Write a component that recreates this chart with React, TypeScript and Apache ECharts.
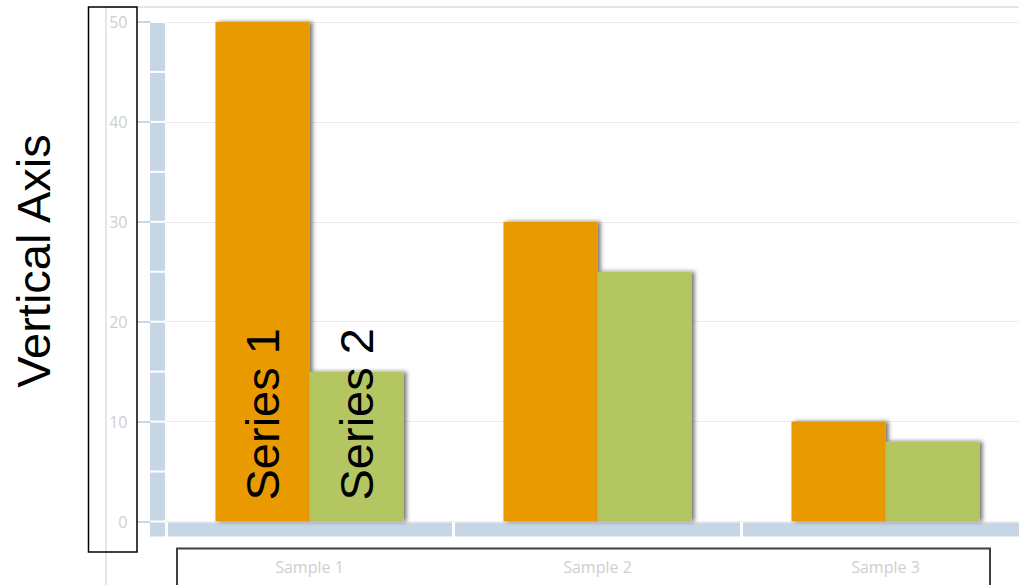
import React, { useEffect, useRef } from "react";
import * as echarts from "echarts";

const categories = ["Sample 1", "Sample 2", "Sample 3"];
const series1 = [50, 30, 10];
const series2 = [15, 25, 8];
const seriesNames = ["Series 1", "Series 2"];
const yMin = 0;
const yMax = 50;
const yInterval = 10;
const wallStep = 5;
const axisTitle = "Vertical Axis";

const WALL = "#c7d6e4";
const LABEL_FONT = "Liberation Sans";
const CHART_W = 1040;

function withFirstLabel(values: number[]) {
  return values.map((v, i) =>
    i === 0
      ? {
          value: v,
          label: {
            show: true,
            formatter: "{a}",
            position: "insideBottom",
            rotate: 90,
            align: "left",
            verticalAlign: "middle",
            distance: 21,
            fontSize: 47,
            fontFamily: LABEL_FONT,
            color: "#000",
          },
        }
      : v
  );
}

export default function App() {
  const ref = useRef<HTMLDivElement>(null);
  useEffect(() => {
    if (!ref.current) return;
    const chart = echarts.init(ref.current, null, { renderer: "svg" });
    const barStyle = (color: string) => ({
      color,
      shadowColor: "rgba(0,0,0,0.55)",
      shadowBlur: 4,
      shadowOffsetX: 3,
      shadowOffsetY: 0,
    });
    chart.setOption({
      animation: false,
      grid: { left: 165.5, top: 22, right: CHART_W - 165.5 - 864, height: 499.5, containLabel: false },
      xAxis: {
        type: "category",
        data: categories,
        axisLine: { show: false },
        axisTick: { show: false },
        splitLine: { show: false },
        axisLabel: { color: "#cfcfcf", fontSize: 16, fontFamily: "Open Sans", margin: 37 },
      },
      yAxis: {
        type: "value",
        min: yMin,
        max: yMax,
        interval: yInterval,
        offset: 15,
        axisLine: { show: false },
        axisTick: { show: true, length: 13, lineStyle: { color: WALL, width: 2 } },
        axisLabel: {
          color: "#cfcfcf",
          fontSize: 16,
          fontFamily: "Open Sans",
          margin: 23,
          padding: [0, 0, 5, 0],
        },
        splitLine: { lineStyle: { color: "#ececec", width: 1 } },
      },
      series: [
        {
          name: seriesNames[0],
          type: "bar",
          data: withFirstLabel(series1),
          barWidth: 94,
          barGap: "0%",
          itemStyle: barStyle("#e99a00"),
        },
        {
          name: seriesNames[1],
          type: "bar",
          data: withFirstLabel(series2),
          barWidth: 94,
          barGap: "0%",
          itemStyle: barStyle("#b4c662"),
        },
      ],
    });

    const py = (v: number) => chart.convertToPixel({ yAxisIndex: 0 }, v) as number;
    const px = (i: number) => chart.convertToPixel({ xAxisIndex: 0 }, categories[i]) as number;
    const band = px(1) - px(0);
    const gridLeft = px(0) - band / 2;
    const zeroY = py(yMin);

    const graphics: any[] = [];
    graphics.push({
      type: "rect",
      z: -10,
      shape: { x: 106, y: 7, width: 1000, height: 700 },
      style: { fill: "none", stroke: "#e6e6e6", lineWidth: 2 },
    });
    for (let v = yMax; v > yMin; v -= wallStep) {
      const top = py(v) + 1;
      const bottom = py(v - wallStep) - 1;
      graphics.push({
        type: "rect",
        z: 1,
        shape: { x: gridLeft - 15.5, y: top, width: 15, height: bottom - top },
        style: { fill: WALL },
      });
    }
    graphics.push({
      type: "rect",
      z: 1,
      shape: { x: gridLeft - 15.5, y: zeroY + 1, width: 15, height: 14 },
      style: { fill: WALL },
    });
    for (let i = 0; i < categories.length; i++) {
      const left = gridLeft + i * band + (i === 0 ? 2.5 : 1.5);
      const right = gridLeft + (i + 1) * band - 1.5;
      graphics.push({
        type: "rect",
        z: 1,
        shape: { x: left, y: zeroY + 1, width: right - left, height: 14 },
        style: { fill: WALL },
      });
    }
    graphics.push({
      type: "rect",
      z: 100,
      shape: { x: 88.5, y: 7, width: 48.5, height: 545 },
      style: { fill: "none", stroke: "#000", lineWidth: 1.5 },
    });
    graphics.push({
      type: "rect",
      z: 100,
      shape: { x: 177, y: 548.5, width: 813, height: 60 },
      style: { fill: "none", stroke: "#404040", lineWidth: 2 },
    });
    graphics.push({
      type: "text",
      z: 100,
      x: 33.5,
      y: 261,
      rotation: Math.PI / 2,
      style: {
        text: axisTitle,
        fontSize: 47,
        fontFamily: LABEL_FONT,
        fill: "#000",
        align: "center",
        verticalAlign: "middle",
      },
    });
    chart.setOption({ graphic: graphics });

    return () => chart.dispose();
  }, []);
  return (
    <div
      style={{ position: "absolute", left: 0, top: 0, width: 1019, height: 585, overflow: "hidden", background: "#fff" }}
    >
      <div ref={ref} style={{ width: CHART_W, height: 585 }} />
    </div>
  );
}
